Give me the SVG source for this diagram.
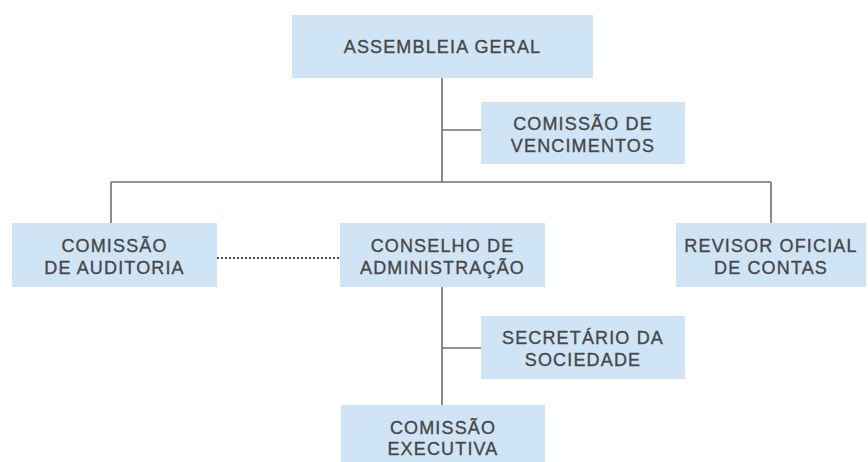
<svg xmlns="http://www.w3.org/2000/svg" width="868" height="462" viewBox="0 0 868 462">
<style>
.box{fill:#cfe5f6;}
.t{font-family:"Liberation Sans",Arial,sans-serif;font-size:18px;fill:#474747;stroke:#474747;stroke-width:0.35;text-anchor:middle;letter-spacing:1.15px;}
.ln{stroke:#707070;stroke-width:1.6;fill:none;}
.dot{stroke:#4a4a4a;stroke-width:2;stroke-dasharray:2 2;fill:none;}
</style>
<rect width="868" height="462" fill="#ffffff"/>
<g id="connectors">
<path class="ln" d="M442 78V182M442 130H481M111 182H771M111 182V223M771 182V223M442 287V405M442 348H481"/>
<path class="dot" d="M217 258H340"/>
</g>
<g id="assembleia-geral">
<rect class="box" x="292" y="15" width="301" height="63"/>
<text class="t" x="442.5" y="53">ASSEMBLEIA GERAL</text>
</g>
<g id="comissao-vencimentos">
<rect class="box" x="481" y="102" width="204" height="62"/>
<text class="t" x="583" y="130">COMISSÃO DE</text>
<text class="t" x="583" y="152">VENCIMENTOS</text>
</g>
<g id="comissao-auditoria">
<rect class="box" x="12" y="223" width="205" height="64"/>
<text class="t" x="114.5" y="252">COMISSÃO</text>
<text class="t" x="114.5" y="274">DE AUDITORIA</text>
</g>
<g id="conselho-administracao">
<rect class="box" x="340" y="223" width="205" height="64"/>
<text class="t" x="442.5" y="252">CONSELHO DE</text>
<text class="t" x="442.5" y="274">ADMINISTRAÇÃO</text>
</g>
<g id="revisor-oficial">
<rect class="box" x="676" y="223" width="190" height="64"/>
<text class="t" x="771" y="252">REVISOR OFICIAL</text>
<text class="t" x="771" y="274">DE CONTAS</text>
</g>
<g id="secretario-sociedade">
<rect class="box" x="481" y="316" width="204" height="63"/>
<text class="t" x="583" y="344">SECRETÁRIO DA</text>
<text class="t" x="583" y="366">SOCIEDADE</text>
</g>
<g id="comissao-executiva">
<rect class="box" x="341" y="405" width="204" height="57"/>
<text class="t" x="443" y="434">COMISSÃO</text>
<text class="t" x="443" y="455">EXECUTIVA</text>
</g>
</svg>
